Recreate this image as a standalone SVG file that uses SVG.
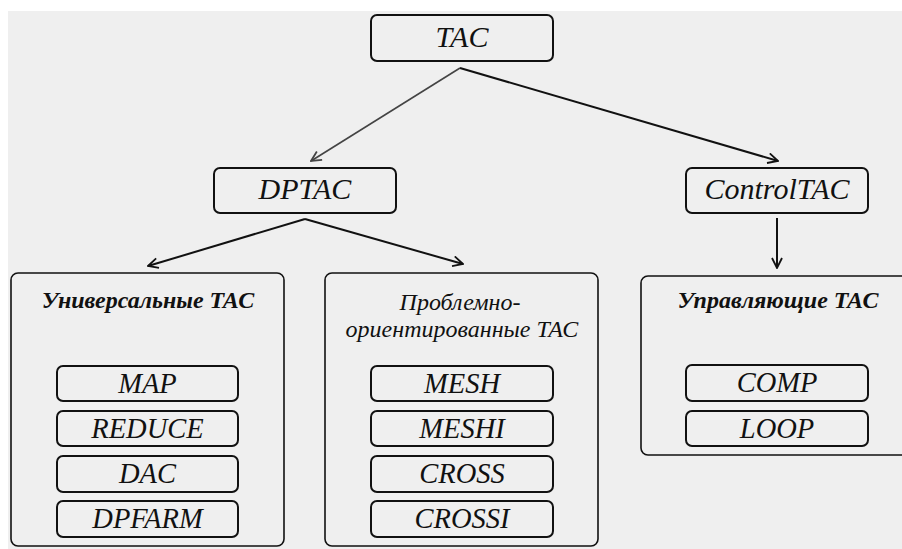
<svg xmlns="http://www.w3.org/2000/svg" width="902" height="549" viewBox="0 0 902 549">
  <defs>
    <marker id="arrG" viewBox="0 0 12 12" refX="11" refY="6" markerWidth="12" markerHeight="12" markerUnits="userSpaceOnUse" orient="auto">
      <path d="M1,1 L11,6 L1,11" fill="none" stroke="#444" stroke-width="1.8"/>
    </marker>
    <marker id="arrK" viewBox="0 0 12 12" refX="11" refY="6" markerWidth="12" markerHeight="12" markerUnits="userSpaceOnUse" orient="auto">
      <path d="M1,1 L11,6 L1,11" fill="none" stroke="#111" stroke-width="1.8"/>
    </marker>
  </defs>
  <style>
    .box { fill: none; stroke: #111; stroke-width: 2; }
    .grp { fill: none; stroke: #111; stroke-width: 1.6; }
    text { font-family: 'Liberation Serif', 'Times New Roman', serif; font-style: italic; fill: #111; text-anchor: middle; }
    .big { font-size: 30px; }
    .mid { font-size: 28.5px; }
    .hd { font-size: 24px; font-weight: bold; }
    .hd2 { font-size: 24px; }
  </style>
  <rect x="0" y="0" width="902" height="549" fill="#ffffff"/>
  <rect x="8" y="11" width="894" height="538" fill="#efefef"/>

  <g id="connectors" fill="none">
    <path d="M460,68 L311,161" stroke="#444" stroke-width="1.6" marker-end="url(#arrG)"/>
    <path d="M460,68 L778,161" stroke="#111" stroke-width="2" marker-end="url(#arrK)"/>
    <path d="M305,219 L148,266" stroke="#111" stroke-width="2" marker-end="url(#arrK)"/>
    <path d="M305,219 L463,264" stroke="#111" stroke-width="2" marker-end="url(#arrK)"/>
    <path d="M777,218 L777,268" stroke="#111" stroke-width="2" marker-end="url(#arrK)"/>
  </g>

  <g id="tac">
    <rect class="box" x="371" y="15" width="182" height="46" rx="6"/>
    <text class="big" x="462" y="47">TAC</text>
  </g>
  <g id="dptac">
    <rect class="box" x="214" y="168" width="182" height="45" rx="6"/>
    <text class="big" x="305" y="199">DPTAC</text>
  </g>
  <g id="controltac">
    <rect class="box" x="686" y="168" width="182" height="45" rx="6"/>
    <text class="big" x="777" y="199">ControlTAC</text>
  </g>

  <g id="universal">
    <rect class="grp" x="11" y="273" width="273" height="273" rx="7"/>
    <text class="hd" x="148" y="308">Универсальные ТАС</text>
  </g>
  <g id="map">
    <rect class="box" x="57" y="366" width="181" height="35" rx="6"/>
    <text class="mid" x="147.5" y="393">MAP</text>
  </g>
  <g id="reduce">
    <rect class="box" x="57" y="411" width="181" height="35" rx="6"/>
    <text class="mid" x="147.5" y="438">REDUCE</text>
  </g>
  <g id="dac">
    <rect class="box" x="57" y="456" width="181" height="36" rx="6"/>
    <text class="mid" x="147.5" y="483">DAC</text>
  </g>
  <g id="dpfarm">
    <rect class="box" x="57" y="501" width="181" height="36" rx="6"/>
    <text class="mid" x="147.5" y="528">DPFARM</text>
  </g>

  <g id="problem">
    <rect class="grp" x="325" y="273" width="273" height="273" rx="7"/>
    <text class="hd2" x="460" y="310">Проблемно-</text>
    <text class="hd2" x="462" y="337">ориентированные ТАС</text>
  </g>
  <g id="mesh">
    <rect class="box" x="371" y="366" width="182" height="35" rx="6"/>
    <text class="mid" x="462" y="393">MESH</text>
  </g>
  <g id="meshi">
    <rect class="box" x="371" y="411" width="182" height="35" rx="6"/>
    <text class="mid" x="462" y="438">MESHI</text>
  </g>
  <g id="cross">
    <rect class="box" x="371" y="456" width="182" height="36" rx="6"/>
    <text class="mid" x="462" y="483">CROSS</text>
  </g>
  <g id="crossi">
    <rect class="box" x="371" y="501" width="182" height="36" rx="6"/>
    <text class="mid" x="462" y="528">CROSSI</text>
  </g>

  <g id="control">
    <rect class="grp" x="641" y="276" width="270" height="179" rx="7"/>
    <text class="hd" x="778" y="308">Управляющие ТАС</text>
  </g>
  <g id="comp">
    <rect class="box" x="686" y="365" width="182" height="36" rx="6"/>
    <text class="mid" x="777" y="392">COMP</text>
  </g>
  <g id="loop">
    <rect class="box" x="686" y="411" width="182" height="35" rx="6"/>
    <text class="mid" x="777" y="438">LOOP</text>
  </g>
</svg>
